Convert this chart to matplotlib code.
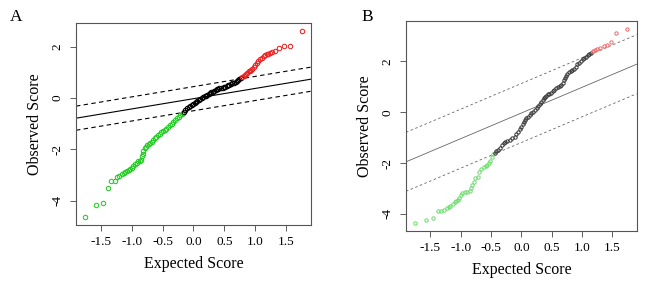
import matplotlib
matplotlib.use("Agg")
import matplotlib.pyplot as plt

plt.rcParams['font.family'] = ['Liberation Serif', 'DejaVu Serif']
plt.rcParams['axes.unicode_minus'] = False

# Panel A: expected vs observed scores
a_green_x = [-1.76, -1.58, -1.47, -1.39, -1.33, -1.27, -1.23, -1.20, -1.16, -1.13, -1.11, -1.08,
             -1.05, -1.03, -1.00, -0.97, -0.95, -0.92, -0.89, -0.87, -0.85, -0.83, -0.82, -0.81,
             -0.79, -0.77, -0.75, -0.72, -0.70, -0.67, -0.65, -0.62, -0.60, -0.57, -0.54, -0.52,
             -0.49, -0.46, -0.44, -0.41, -0.38, -0.35, -0.33, -0.30, -0.27, -0.24, -0.22, -0.19, -0.17]
a_green_y = [-4.65, -4.19, -4.11, -3.52, -3.25, -3.23, -3.08, -3.04, -2.98, -2.93, -2.89, -2.85,
             -2.82, -2.78, -2.73, -2.66, -2.59, -2.53, -2.47, -2.44, -2.41, -2.25, -2.17, -2.05,
             -1.96, -1.90, -1.85, -1.80, -1.76, -1.70, -1.65, -1.58, -1.52, -1.45, -1.39, -1.34,
             -1.29, -1.24, -1.20, -1.13, -1.07, -1.00, -0.94, -0.87, -0.80, -0.73, -0.68, -0.62, -0.58]
a_black_x = [-0.15, -0.13, -0.10, -0.08, -0.05, -0.03, 0.00, 0.02, 0.04, 0.06, 0.09, 0.11, 0.13,
             0.16, 0.18, 0.20, 0.22, 0.25, 0.27, 0.29, 0.31, 0.33, 0.36, 0.38, 0.40, 0.42, 0.44,
             0.47, 0.49, 0.51, 0.54, 0.56, 0.58, 0.61, 0.63, 0.65, 0.68, 0.70, 0.72, 0.74, 0.77]
a_black_y = [-0.53, -0.47, -0.41, -0.36, -0.30, -0.26, -0.22, -0.18, -0.14, -0.11, -0.07, -0.04, 0.00,
             0.03, 0.06, 0.09, 0.12, 0.16, 0.19, 0.22, 0.24, 0.27, 0.30, 0.33, 0.35, 0.37, 0.38,
             0.40, 0.42, 0.44, 0.46, 0.49, 0.51, 0.54, 0.57, 0.60, 0.63, 0.67, 0.70, 0.73, 0.77]
a_red_x = [0.79, 0.81, 0.83, 0.85, 0.87, 0.89, 0.91, 0.93, 0.95, 0.98, 1.00, 1.03, 1.05, 1.08,
           1.11, 1.14, 1.16, 1.19, 1.21, 1.24, 1.27, 1.32, 1.38, 1.46, 1.56, 1.75]
a_red_y = [0.82, 0.86, 0.91, 0.95, 0.99, 1.03, 1.06, 1.10, 1.14, 1.20, 1.27, 1.36, 1.44, 1.51,
           1.57, 1.63, 1.67, 1.71, 1.73, 1.75, 1.77, 1.84, 1.93, 2.03, 2.03, 2.61]
# reference line (slope, intercept) and band half-width
a_slope, a_icpt, a_delta = 0.40, -0.03, 0.47

# Panel B
b_green_x = [-1.75, -1.57, -1.45, -1.38, -1.33, -1.27, -1.23, -1.20, -1.17, -1.13, -1.10, -1.07,
             -1.05, -1.03, -1.00, -0.97, -0.93, -0.89, -0.85, -0.83, -0.81, -0.78, -0.76, -0.72,
             -0.69, -0.66, -0.62, -0.58, -0.56, -0.54, -0.51, -0.48, -0.46]
b_green_y = [-4.37, -4.24, -4.17, -3.89, -3.87, -3.85, -3.78, -3.73, -3.69, -3.61, -3.52, -3.48,
             -3.45, -3.36, -3.26, -3.16, -3.14, -3.13, -3.09, -2.97, -2.86, -2.73, -2.60, -2.53,
             -2.34, -2.24, -2.17, -2.11, -2.06, -2.01, -1.91, -1.75, -1.66]
b_black_x = [-0.44, -0.41, -0.38, -0.35, -0.32, -0.29, -0.27, -0.23, -0.19, -0.15, -0.11, -0.08,
             -0.05, -0.02, 0.00, 0.02, 0.04, 0.06, 0.08, 0.11, 0.14, 0.16, 0.19, 0.22, 0.25, 0.28,
             0.30, 0.33, 0.35, 0.37, 0.39, 0.41, 0.44, 0.46, 0.49, 0.52, 0.54, 0.57, 0.60, 0.63,
             0.66, 0.68, 0.70, 0.72, 0.74, 0.76, 0.79, 0.82, 0.84, 0.87, 0.90, 0.92, 0.95, 0.98,
             1.01, 1.04, 1.06, 1.09, 1.12, 1.14]
b_black_y = [-1.60, -1.54, -1.48, -1.39, -1.29, -1.22, -1.18, -1.14, -1.09, -1.03, -0.96, -0.86,
             -0.76, -0.66, -0.57, -0.47, -0.37, -0.30, -0.24, -0.17, -0.11, -0.04, 0.02, 0.09, 0.16, 0.24,
             0.31, 0.42, 0.48, 0.55, 0.60, 0.65, 0.70, 0.73, 0.77, 0.82, 0.88, 0.94, 0.98, 1.04,
             1.08, 1.15, 1.26, 1.36, 1.43, 1.49, 1.57, 1.62, 1.65, 1.70, 1.77, 1.88, 1.95, 2.01,
             2.08, 2.14, 2.19, 2.25, 2.30, 2.34]
b_red_x = [1.18, 1.21, 1.25, 1.30, 1.36, 1.41, 1.47, 1.56, 1.74]
b_red_y = [2.41, 2.45, 2.48, 2.52, 2.62, 2.66, 2.76, 3.13, 3.28]
b_slope, b_icpt, b_delta = 1.01, -0.03, 1.16

x_ticks = [-1.5, -1.0, -0.5, 0.0, 0.5, 1.0, 1.5]
y_ticks = [-4, -2, 0, 2]

fig = plt.figure(figsize=(6.45, 2.87), dpi=100)
axA = fig.add_axes([0.1178, 0.216, 0.3643, 0.704])
axB = fig.add_axes([0.6295, 0.195, 0.3576, 0.732])


def draw_panel(ax, gx, gy, kx, ky, rx, ry, slope, icpt, delta, ylim, ms, mew, lcol, lw, dash, pcol):
    xl = (-1.9, 1.9)
    xs = [xl[0], xl[1]]
    ax.plot(xs, [slope * v + icpt for v in xs], color=lcol, lw=lw)
    ax.plot(xs, [slope * v + icpt + delta for v in xs], color=lcol, lw=lw, dashes=dash)
    ax.plot(xs, [slope * v + icpt - delta for v in xs], color=lcol, lw=lw, dashes=dash)
    kw = dict(marker='o', ls='none', mfc='none', ms=ms, mew=mew)
    ax.plot(gx, gy, mec=pcol[0], **kw)
    ax.plot(kx, ky, mec=pcol[1], **kw)
    ax.plot(rx, ry, mec=pcol[2], **kw)
    ax.set_xlim(*xl)
    ax.set_ylim(*ylim)
    ax.set_xticks(x_ticks)
    ax.set_xticklabels(['%.1f' % t for t in x_ticks])
    ax.set_yticks(y_ticks)
    ax.set_yticklabels([str(t) for t in y_ticks], rotation=90, va='center')
    ax.tick_params(length=4, width=0.6, color='#444444', labelsize=9.5, pad=4)
    ax.tick_params(axis='y', pad=5)
    for s in ax.spines.values():
        s.set_color('#555555')
        s.set_linewidth(0.8)
    ax.set_xlabel('Expected Score', fontsize=11.5, labelpad=6)
    ax.set_ylabel('Observed Score', fontsize=11.5, labelpad=6)


draw_panel(axA, a_green_x, a_green_y, a_black_x, a_black_y, a_red_x, a_red_y,
           a_slope, a_icpt, a_delta, (-4.95, 2.92), 3.2, 0.75, 'black', 0.8, (4, 3),
           ['#22cc22', 'black', '#ee2222'])
draw_panel(axB, b_green_x, b_green_y, b_black_x, b_black_y, b_red_x, b_red_y,
           b_slope, b_icpt, b_delta, (-4.67, 3.59), 2.4, 0.7, '#666666', 0.6, (3, 3),
           ['#66dd66', '#333333', '#ee6666'])

fig.text(0.016, 0.94, 'A', fontsize=12.5, va='center', ha='left')
fig.text(0.561, 0.94, 'B', fontsize=12.5, va='center', ha='left')

fig.savefig('out.png', dpi=100)
